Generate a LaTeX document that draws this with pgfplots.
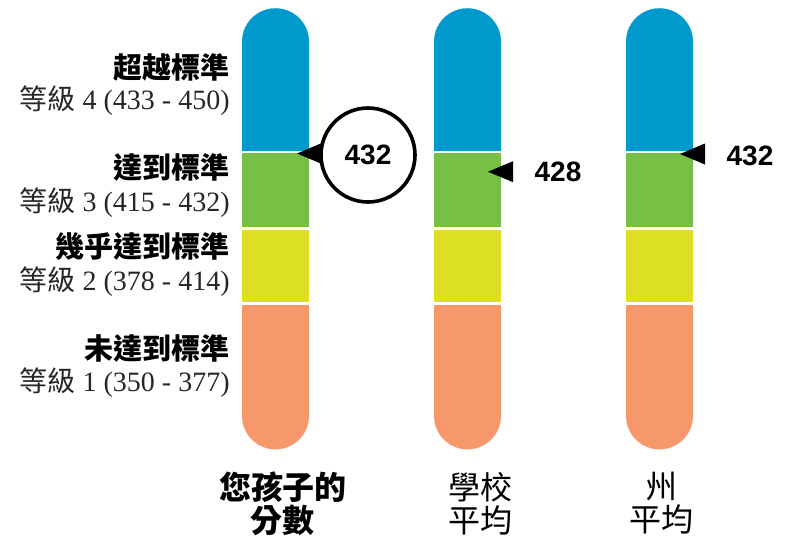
\documentclass[border=0pt]{standalone}
\usepackage{pgfplots}
\pgfplotsset{compat=1.18}
\usepackage{fontspec}
\setmainfont{Liberation Serif}
\newfontfamily\cjk{Noto Sans CJK TC}
\newfontfamily\lsans{Liberation Sans}
\definecolor{cblue}{RGB}{0,153,204}
\definecolor{cgreen}{RGB}{119,191,69}
\definecolor{cyellow}{RGB}{221,223,34}
\definecolor{corange}{RGB}{247,152,106}
\newcommand\band[5]{\addplot[fill=#5,draw=none] coordinates {(#1,#3) (#2,#3) (#2,#4) (#1,#4)} --cycle;}
\newcommand\pillcap[3]{\addplot[color=#3, only marks, mark=*, mark size=16.7pt, mark options={draw=#3, fill=#3, line width=0.1pt}] coordinates {(#1,#2)};}
\newcommand\pill[3]{%
 \pillcap{#2}{41.8}{cblue}
 \band{#1}{#3}{41.8}{150.7}{cblue}
 \band{#1}{#3}{153.3}{226.7}{cgreen}
 \band{#1}{#3}{230}{301.7}{cyellow}
 \band{#1}{#3}{305}{415.8}{corange}
 \pillcap{#2}{415.8}{corange}
}
\newcommand\hd{\cjk\bfseries\fontsize{14.5}{17}\selectfont}
\newcommand\lv{\color{black!85}\fontsize{14}{17}\selectfont}
\newcommand\num{\lsans\bfseries\fontsize{14}{16}\selectfont}
\begin{document}
\begin{tikzpicture}
\begin{axis}[scale only axis, width=397pt, height=268pt,
  xmin=0, xmax=794, ymin=0, ymax=536, y dir=reverse,
  hide axis, clip=false]
\addplot[draw=none] coordinates {(0,0) (794,536)};
\pill{242}{275.5}{309}
\pill{434}{467.5}{501}
\pill{626}{659.5}{693}
% marker 1: your child 432
\addplot[fill=black,draw=none] coordinates {(297,153.5) (326,141.3) (326,165.7)} --cycle;
\addplot[black, only marks, mark=*, mark size=23.5pt,
  mark options={draw=black, fill=white, line width=1.8pt},
  point meta=explicit symbolic,
  nodes near coords, nodes near coords align=center,
  every node near coord/.append style={font=\num, text=black, anchor=center}]
  coordinates {(368,155) [432]};
% marker 2: school 428
\addplot[fill=black,draw=none] coordinates {(488,171.7) (513,161.2) (513,182.2)} --cycle;
% marker 3: state 432
\addplot[fill=black,draw=none] coordinates {(680,154) (705,143.5) (705,164.5)} --cycle;
\node at (axis cs:558,172) {\num 428};
\node at (axis cs:750,155.5) {\num 432};
% level labels
\node[anchor=east, inner sep=0pt] at (axis cs:230,67) {\hd 超越標準};
\node[anchor=east, inner sep=0pt] at (axis cs:230,101) {\lv{\cjk 等級} 4 (433 - 450)};
\node[anchor=east, inner sep=0pt] at (axis cs:230,167) {\hd 達到標準};
\node[anchor=east, inner sep=0pt] at (axis cs:230,203) {\lv{\cjk 等級} 3 (415 - 432)};
\node[anchor=east, inner sep=0pt] at (axis cs:230,247) {\hd 幾乎達到標準};
\node[anchor=east, inner sep=0pt] at (axis cs:230,282) {\lv{\cjk 等級} 2 (378 - 414)};
\node[anchor=east, inner sep=0pt] at (axis cs:230,348) {\hd 未達到標準};
\node[anchor=east, inner sep=0pt] at (axis cs:230,383) {\lv{\cjk 等級} 1 (350 - 377)};
% bottom labels
\node[align=center, inner sep=0pt, font=\cjk\bfseries\fontsize{16}{16.5}\selectfont] at (axis cs:283,503.5) {您孩子的\\分數};
\node[align=center, inner sep=0pt, font=\cjk\fontsize{16}{16.5}\selectfont] at (axis cs:480,503.5) {學校\\平均};
\node[align=center, inner sep=0pt, font=\cjk\fontsize{16}{16.5}\selectfont] at (axis cs:661,503.5) {州\\平均};
\end{axis}
\end{tikzpicture}
\end{document}
